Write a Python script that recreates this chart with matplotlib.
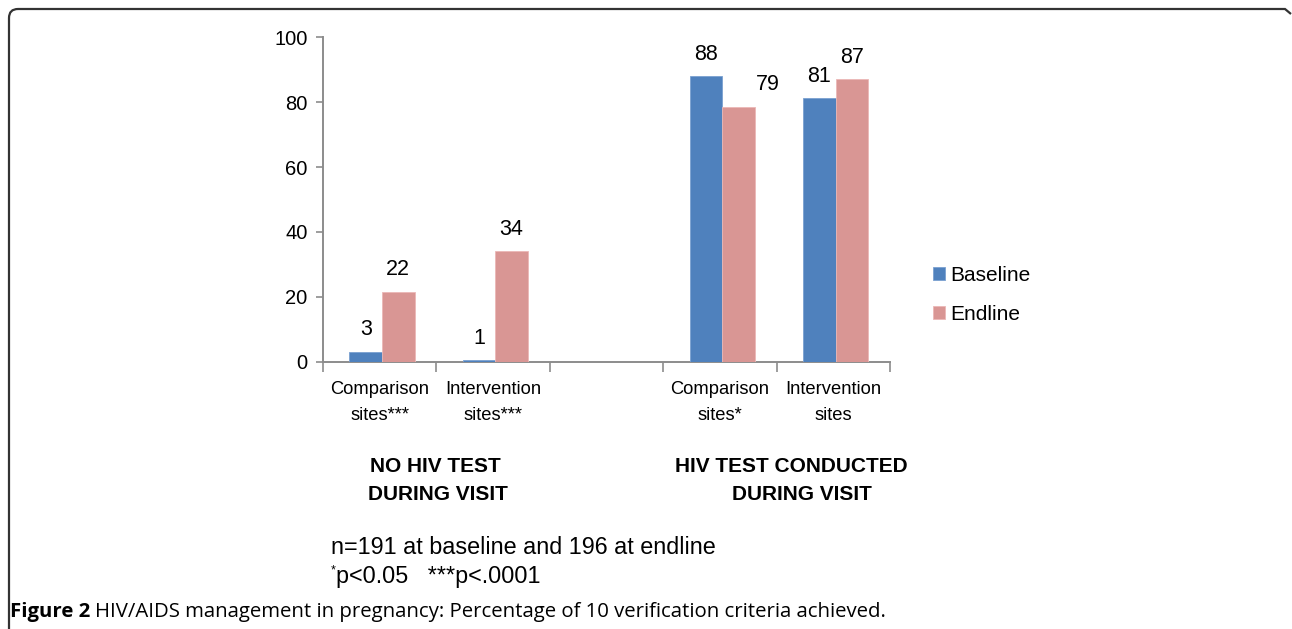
import matplotlib
matplotlib.use("Agg")
import matplotlib.pyplot as plt
import numpy as np
from matplotlib import font_manager
from matplotlib.path import Path
from matplotlib.patches import PathPatch

# ---- data ----
categories = ["Comparison\nsites***", "Intervention\nsites***", "", "Comparison\nsites*", "Intervention\nsites"]
baseline = [3.0, 0.5, np.nan, 88.0, 81.2]
endline = [21.5, 34.0, np.nan, 78.5, 87.0]
baseline_labels = ["3", "1", "", "88", "81"]
endline_labels = ["22", "34", "", "79", "87"]
group_labels = [["NO HIV TEST", "DURING VISIT"], ["HIV TEST CONDUCTED", "DURING VISIT"]]
series_names = ["Baseline", "Endline"]
yticks = [0, 20, 40, 60, 80, 100]

# ---- style ----
BLUE = "#4F81BD"
PINK = "#D99694"
AXC = "#8c8c8c"
FONT = "Liberation Sans"
names = {f.name for f in font_manager.fontManager.ttflist}
CAPFONT = "Liberation Sans Narrow" if "Liberation Sans Narrow" in names else "Open Sans"
endline_label_nudge = [0, 0, 0, 0.26, 0]

W, H = 1292, 629
fig = plt.figure(figsize=(W / 100, H / 100), dpi=100)
fig.patch.set_facecolor("white")

def fx(px):
    return px / W

def fy(py):
    return 1 - py / H

ax = fig.add_axes([fx(323), fy(361.7), fx(890) - fx(323), fy(37.3) - fy(361.7)])
x = np.arange(len(categories)) + 0.52
bw = 0.287
ax.bar(x - bw / 2, baseline, bw, color=BLUE, edgecolor="#7aa0d0", linewidth=0.6, label=series_names[0], zorder=3)
ax.bar(x + bw / 2, endline, bw, color=PINK, edgecolor="#ebb8b6", linewidth=0.6, label=series_names[1], zorder=3)

ax.set_xlim(0, 5)
ax.set_ylim(0, 100)
ax.set_yticks(yticks)
ax.set_yticklabels([str(t) for t in yticks], fontsize=14.5, family=FONT)
ax.set_xticks(np.arange(0, 6))
ax.set_xticklabels([])
ax.tick_params(axis="x", length=7, color=AXC, width=1.2, direction="out")
ax.tick_params(axis="y", length=5, color=AXC, width=1.2, direction="out", pad=6)
for s in ["top", "right"]:
    ax.spines[s].set_visible(False)
for s in ["left", "bottom"]:
    ax.spines[s].set_color(AXC)
    ax.spines[s].set_linewidth(1.4)

# data labels
for i in range(len(categories)):
    if baseline_labels[i]:
        ax.text(x[i] - bw / 2, baseline[i] + 6.8, baseline_labels[i], ha="center", va="center",
                fontsize=15.5, family=FONT)
    if endline_labels[i]:
        ax.text(x[i] + bw / 2 + endline_label_nudge[i], endline[i] + 6.8, endline_labels[i],
                ha="center", va="center", fontsize=15.5, family=FONT)

# category labels
for i, c in enumerate(categories):
    if not c:
        continue
    l1, l2 = c.split("\n")
    xp = 323 + (i + 0.5) * 113.4
    fig.text(fx(xp), fy(389), l1, ha="center", va="center", fontsize=13.2, family=FONT)
    fig.text(fx(xp), fy(416), l2, ha="center", va="center", fontsize=13.2, family=FONT)

# group labels
GL = 15
fig.text(fx(435), fy(466), group_labels[0][0], ha="center", va="center", fontsize=GL, weight="bold", family=FONT)
fig.text(fx(438), fy(494), group_labels[0][1], ha="center", va="center", fontsize=GL, weight="bold", family=FONT)
fig.text(fx(791), fy(466), group_labels[1][0], ha="center", va="center", fontsize=GL, weight="bold", family=FONT)
fig.text(fx(802), fy(494), group_labels[1][1], ha="center", va="center", fontsize=GL, weight="bold", family=FONT)

# legend
fig.legend(handles=ax.patches[:1] + ax.patches[5:6], labels=series_names, loc="center left",
           bbox_to_anchor=(fx(914), fy(295)), frameon=False, prop={"family": FONT, "size": 15},
           handlelength=0.6, handleheight=0.6, handletextpad=0.25, labelspacing=0.95)

# footnotes
FN = 16.8
fig.text(fx(331), fy(548), "n=191 at baseline and 196 at endline", ha="left", va="center", fontsize=FN, family=FONT)
fig.text(fx(331), fy(570), "*", ha="left", va="center", fontsize=9, family=FONT)
fig.text(fx(336), fy(577), "p<0.05   ***p<.0001", ha="left", va="center", fontsize=FN, family=FONT)

# caption
CP = 14.7
t1 = fig.text(fx(10), fy(612), "Figure 2", ha="left", va="center", fontsize=CP, weight="bold", family=CAPFONT)
fig.canvas.draw()
bb = t1.get_window_extent()
fig.text((bb.x1 + 5) / W, fy(612), "HIV/AIDS management in pregnancy: Percentage of 10 verification criteria achieved.",
         ha="left", va="center", fontsize=CP, family=CAPFONT)

# frame border
r = 9
verts = [(fx(9), fy(629)), (fx(9), fy(9 + r)), (fx(9), fy(9)), (fx(9 + r), fy(9)),
         (fx(1285), fy(9)), (fx(1291), fy(14))]
codes = [Path.MOVETO, Path.LINETO, Path.CURVE3, Path.CURVE3, Path.LINETO, Path.LINETO]
fig.patches.append(PathPatch(Path(verts, codes), transform=fig.transFigure, fill=False,
                             edgecolor="#333333", linewidth=1.6))

fig.savefig("out.png", dpi=100)
